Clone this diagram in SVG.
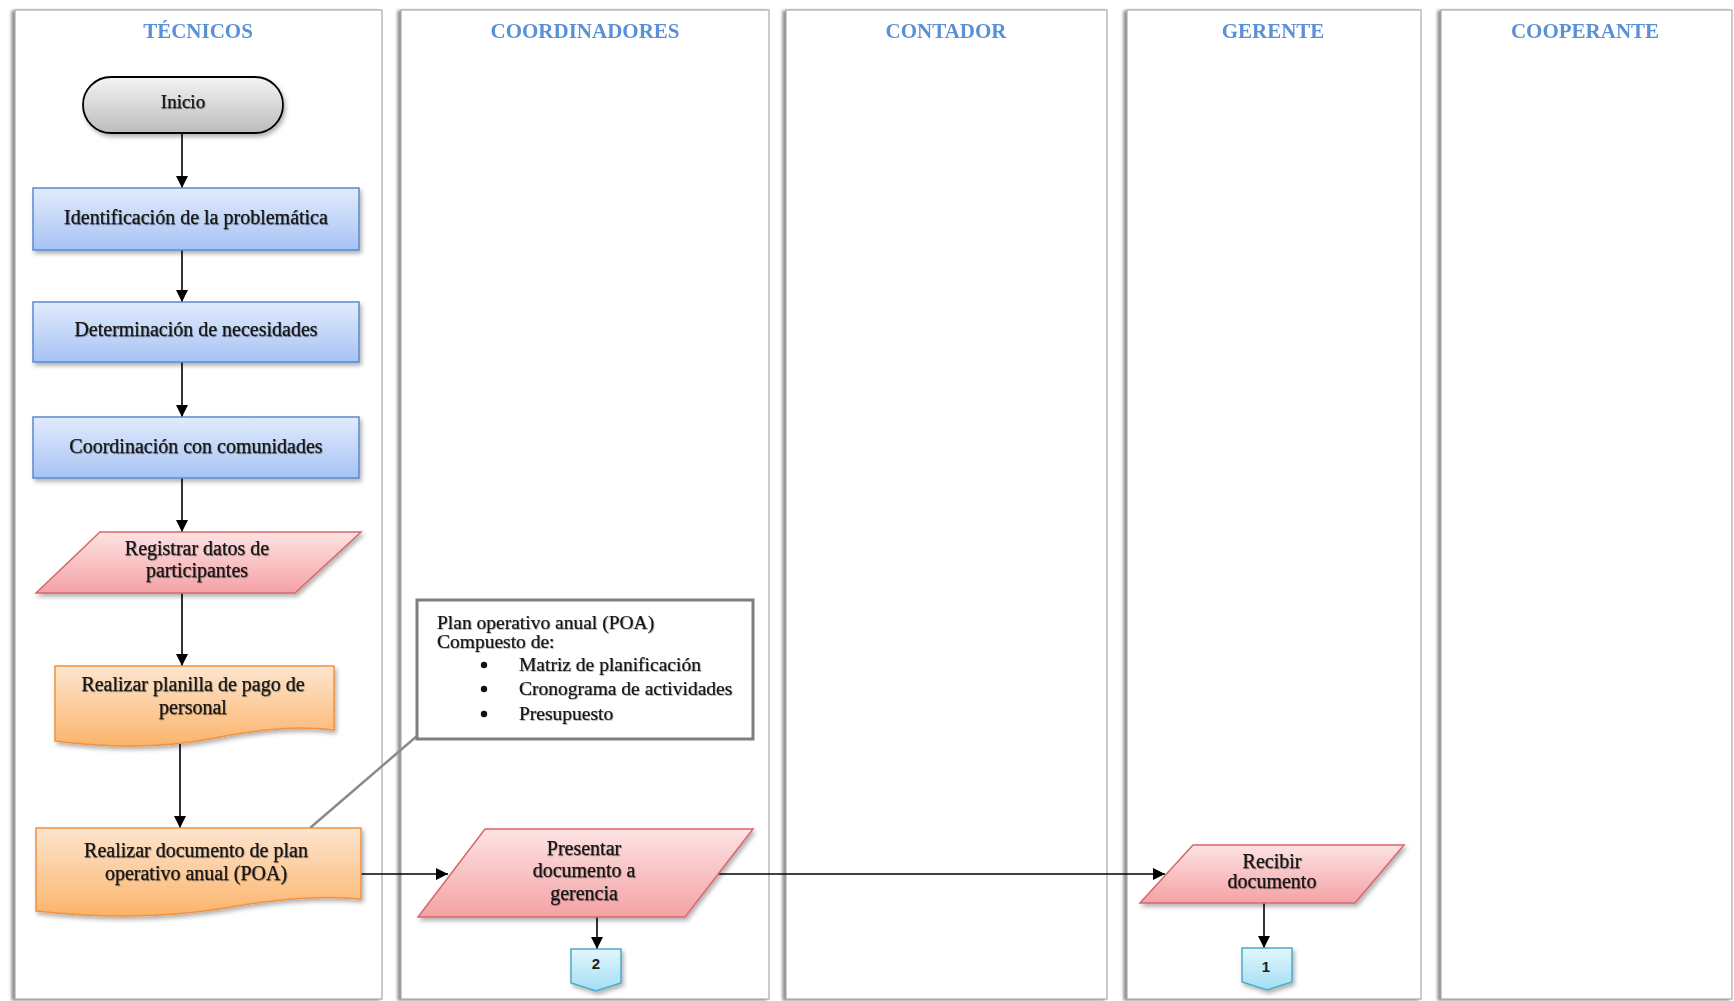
<svg xmlns="http://www.w3.org/2000/svg" width="1734" height="1001" viewBox="0 0 1734 1001">
  <style>
    .lane { fill: #ffffff; stroke: #a8a8a8; stroke-width: 1.2; filter: url(#laneShadow); }
    .title { font-family: "Liberation Serif", serif; font-weight: bold; font-size: 21px; fill: #5a90d6; text-anchor: middle; filter: url(#textSoft); }
    .lbl { font-family: "Liberation Serif", serif; font-size: 20px; fill: #141414; stroke: #141414; stroke-width: 0.25; text-anchor: middle; filter: url(#textShadow); }
    .note { font-family: "Liberation Serif", serif; font-size: 19.5px; fill: #141414; stroke: #141414; stroke-width: 0.2; filter: url(#textShadow); }
    .num { font-family: "Liberation Sans", sans-serif; font-weight: bold; font-size: 15px; fill: #222; text-anchor: middle; }
    .conn { stroke: #000; stroke-width: 1.6; fill: none; marker-end: url(#arrow); }
    .process { fill: url(#gBlue); stroke: #5b89cf; stroke-width: 1.5; filter: url(#nodeShadow); }
    .io { fill: url(#gRed); stroke: #d9666b; stroke-width: 1.5; filter: url(#nodeShadow); }
    .doc { fill: url(#gOrange); stroke: #f4913f; stroke-width: 1.5; filter: url(#nodeShadow); }
    .term { fill: url(#gGray); stroke: #000; stroke-width: 1.8; filter: url(#nodeShadow); }
    .off { fill: url(#gCyan); stroke: #4aabc8; stroke-width: 1.5; filter: url(#nodeShadow); }
  </style>
  <defs>
    <filter id="laneShadow" x="-5%" y="-2%" width="110%" height="104%">
      <feDropShadow dx="-3" dy="1" stdDeviation="1.5" flood-color="#7a7a7a" flood-opacity="0.85"/>
    </filter>
    <filter id="nodeShadow" x="-10%" y="-10%" width="125%" height="140%">
      <feDropShadow dx="2" dy="3" stdDeviation="2" flood-color="#000" flood-opacity="0.3"/>
    </filter>
    <filter id="textShadow" x="-5%" y="-30%" width="110%" height="160%">
      <feDropShadow dx="0.8" dy="0.8" stdDeviation="0.6" flood-color="#000" flood-opacity="0.35"/>
    </filter>
    <filter id="textSoft" x="-5%" y="-30%" width="110%" height="160%">
      <feGaussianBlur stdDeviation="0.5"/>
    </filter>
    <linearGradient id="gBlue" x1="0" y1="0" x2="0" y2="1">
      <stop offset="0" stop-color="#e2ebfc"/>
      <stop offset="1" stop-color="#a6c3f4"/>
    </linearGradient>
    <linearGradient id="gRed" x1="0" y1="0" x2="0" y2="1">
      <stop offset="0" stop-color="#fde3e3"/>
      <stop offset="1" stop-color="#f4a2a5"/>
    </linearGradient>
    <linearGradient id="gOrange" x1="0" y1="0" x2="0" y2="1">
      <stop offset="0" stop-color="#fde5d0"/>
      <stop offset="1" stop-color="#fbb46a"/>
    </linearGradient>
    <linearGradient id="gGray" x1="0" y1="0" x2="0" y2="1">
      <stop offset="0" stop-color="#f4f4f4"/>
      <stop offset="1" stop-color="#bcbcbc"/>
    </linearGradient>
    <linearGradient id="gCyan" x1="0" y1="0" x2="0" y2="1">
      <stop offset="0" stop-color="#e3f6fc"/>
      <stop offset="1" stop-color="#a2def4"/>
    </linearGradient>
    <marker id="arrow" markerUnits="userSpaceOnUse" markerWidth="12" markerHeight="12" refX="12" refY="6" orient="auto">
      <path d="M0,0 L12,6 L0,12 z" fill="#000"/>
    </marker>
  </defs>

  <rect width="1734" height="1001" fill="#ffffff"/>

  <!-- swimlanes -->
  <g id="lanes">
    <g id="lane-tecnicos">
      <rect class="lane" x="15" y="10" width="367" height="989"/>
      <text class="title" x="198" y="38">TÉCNICOS</text>
    </g>
    <g id="lane-coordinadores">
      <rect class="lane" x="401" y="10" width="368" height="989"/>
      <text class="title" x="585" y="38">COORDINADORES</text>
    </g>
    <g id="lane-contador">
      <rect class="lane" x="786" y="10" width="321" height="989"/>
      <text class="title" x="946" y="38">CONTADOR</text>
    </g>
    <g id="lane-gerente">
      <rect class="lane" x="1127" y="10" width="294" height="989"/>
      <text class="title" x="1273" y="38">GERENTE</text>
    </g>
    <g id="lane-cooperante">
      <rect class="lane" x="1441" y="10" width="291" height="989"/>
      <text class="title" x="1585" y="38">COOPERANTE</text>
    </g>
  </g>

  <!-- connectors -->
  <g id="connectors">
    <line class="conn" x1="182" y1="134" x2="182" y2="188"/>
    <line class="conn" x1="182" y1="250" x2="182" y2="302"/>
    <line class="conn" x1="182" y1="362" x2="182" y2="417"/>
    <line class="conn" x1="182" y1="478" x2="182" y2="532"/>
    <line class="conn" x1="182" y1="593" x2="182" y2="666"/>
    <line class="conn" x1="180" y1="744" x2="180" y2="828"/>
    <line class="conn" x1="361" y1="874" x2="448" y2="874"/>
    <line class="conn" x1="718" y1="874" x2="1165" y2="874"/>
    <line class="conn" x1="597" y1="917" x2="597" y2="949"/>
    <line class="conn" x1="1264" y1="903" x2="1264" y2="948"/>
    <!-- annotation leader -->
    <line x1="310" y1="828" x2="417" y2="736" stroke="#8a8a8a" stroke-width="2.5"/>
  </g>

  <!-- nodes -->
  <g id="inicio">
    <rect class="term" x="83" y="77" width="200" height="56" rx="28" ry="28"/>
    <text class="lbl" x="183" y="108" style="font-size:19px">Inicio</text>
  </g>
  <g id="identificacion">
    <rect class="process" x="33" y="188" width="326" height="62"/>
    <text class="lbl" x="196" y="224">Identificación de la problemática</text>
  </g>
  <g id="determinacion">
    <rect class="process" x="33" y="302" width="326" height="60"/>
    <text class="lbl" x="196" y="336">Determinación de necesidades</text>
  </g>
  <g id="coordinacion">
    <rect class="process" x="33" y="417" width="326" height="61"/>
    <text class="lbl" x="196" y="453">Coordinación con comunidades</text>
  </g>
  <g id="registrar">
    <polygon class="io" points="100,532 361,532 295,593 36,593"/>
    <text class="lbl" x="197" y="555">Registrar datos de</text>
    <text class="lbl" x="197" y="577">participantes</text>
  </g>
  <g id="planilla">
    <path class="doc" d="M55,666 H334 V730 C300,726 265,728 215,738 C165,748 110,748 55,741 Z"/>
    <text class="lbl" x="193" y="691">Realizar planilla de pago de</text>
    <text class="lbl" x="193" y="714">personal</text>
  </g>
  <g id="documento-poa">
    <path class="doc" d="M36,828 H361 V899 C322,895 280,898 225,908 C165,918 100,918 36,911 Z"/>
    <text class="lbl" x="196" y="857">Realizar documento de plan</text>
    <text class="lbl" x="196" y="880">operativo anual (POA)</text>
  </g>
  <g id="nota-poa">
    <rect x="417" y="600" width="336" height="139" fill="#ffffff" stroke="#7f7f7f" stroke-width="3"/>
    <text class="note" x="437" y="629">Plan operativo anual (POA)</text>
    <text class="note" x="437" y="648">Compuesto de:</text>
    <circle cx="484" cy="665" r="3.2" fill="#111"/>
    <circle cx="484" cy="689" r="3.2" fill="#111"/>
    <circle cx="484" cy="714" r="3.2" fill="#111"/>
    <text class="note" x="519" y="671">Matriz de planificación</text>
    <text class="note" x="519" y="695">Cronograma de actividades</text>
    <text class="note" x="519" y="720">Presupuesto</text>
  </g>
  <g id="presentar">
    <polygon class="io" points="485,829 753,829 685,917 418,917"/>
    <text class="lbl" x="584" y="855">Presentar</text>
    <text class="lbl" x="584" y="877">documento a</text>
    <text class="lbl" x="584" y="900">gerencia</text>
  </g>
  <g id="conector-2">
    <path class="off" d="M571,949 H621 V983 L596,991 L571,983 Z"/>
    <text class="num" x="596" y="969">2</text>
  </g>
  <g id="recibir">
    <polygon class="io" points="1193,845 1404,845 1355,903 1140,903"/>
    <text class="lbl" x="1272" y="868">Recibir</text>
    <text class="lbl" x="1272" y="888">documento</text>
  </g>
  <g id="conector-1">
    <path class="off" d="M1242,948 H1292 V982 L1267,990 L1242,982 Z"/>
    <text class="num" x="1266" y="972">1</text>
  </g>
</svg>
